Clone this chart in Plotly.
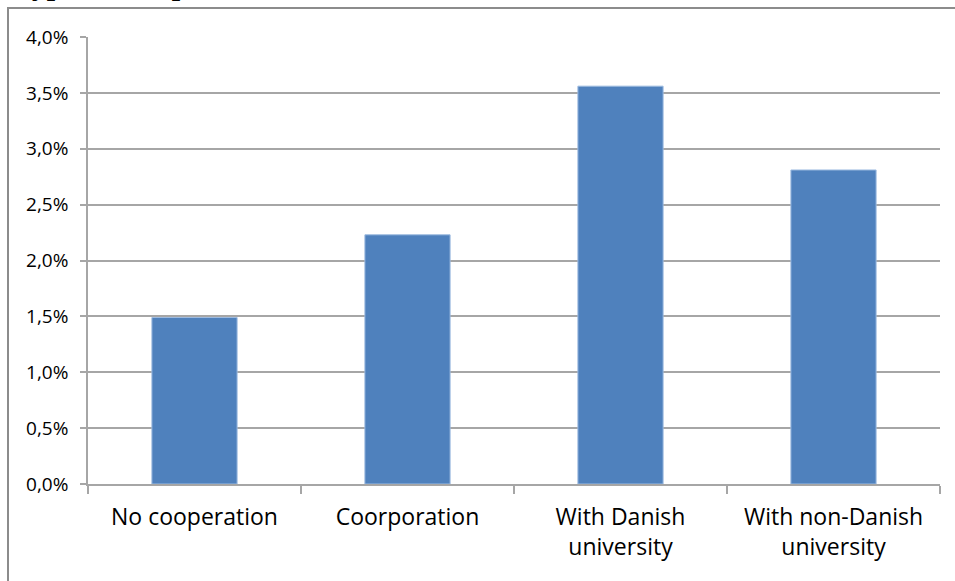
import plotly.graph_objects as go

categories = ["No cooperation", "Coorporation", "With Danish<br>university", "With non-Danish<br>university"]
values = [0.0149, 0.0223, 0.0356, 0.0281]
title_text = "Types of cooperation"

W, H = 955, 581
L, R, T, B = 88, 15, 37, 97
pw, ph = W - L - R, H - T - B

def px(x):
    return (x - L) / pw

def py(y):
    return (H - B - y) / ph

fig = go.Figure()
fig.add_trace(go.Bar(
    x=categories, y=values,
    marker=dict(color="#4F81BD", line=dict(color="#9DBBE0", width=1)),
    width=0.4,
))

grid = "#a6a6a6"
fig.update_layout(
    width=W, height=H,
    margin=dict(l=L, r=R, t=T, b=B),
    plot_bgcolor="white", paper_bgcolor="white",
    separators=",.",
    showlegend=False,
    font=dict(family="Open Sans, sans-serif", color="#000000"),
    xaxis=dict(
        showline=True, linecolor=grid, linewidth=1.5,
        ticks="outside", tickson="boundaries", ticklen=8, tickcolor=grid, tickwidth=1.5,
        tickfont=dict(size=23), showgrid=False, ticklabelstandoff=12,
    ),
    yaxis=dict(
        range=[0, 0.04], dtick=0.005, tickformat=".1%",
        showline=True, linecolor=grid, linewidth=1.5,
        showgrid=True, gridcolor=grid, gridwidth=1.5,
        ticks="outside", ticklen=6, tickcolor=grid, tickwidth=1.5,
        tickfont=dict(size=19), zeroline=False, ticklabelstandoff=8,
    ),
    shapes=[
        dict(type="line", xref="paper", yref="paper", x0=px(8), x1=px(8), y0=py(8), y1=py(600),
             line=dict(color="#8c8c8c", width=2)),
        dict(type="line", xref="paper", yref="paper", x0=px(7), x1=px(970), y0=py(8), y1=py(8),
             line=dict(color="#8c8c8c", width=2)),
    ],
    annotations=[
        dict(text="<b>" + title_text + "</b>", xref="paper", yref="paper",
             x=px(12), y=py(3), xanchor="left", yanchor="bottom", showarrow=False,
             font=dict(family="Liberation Serif, serif", size=30, color="#000")),
    ],
)

fig.write_html("out.html")
